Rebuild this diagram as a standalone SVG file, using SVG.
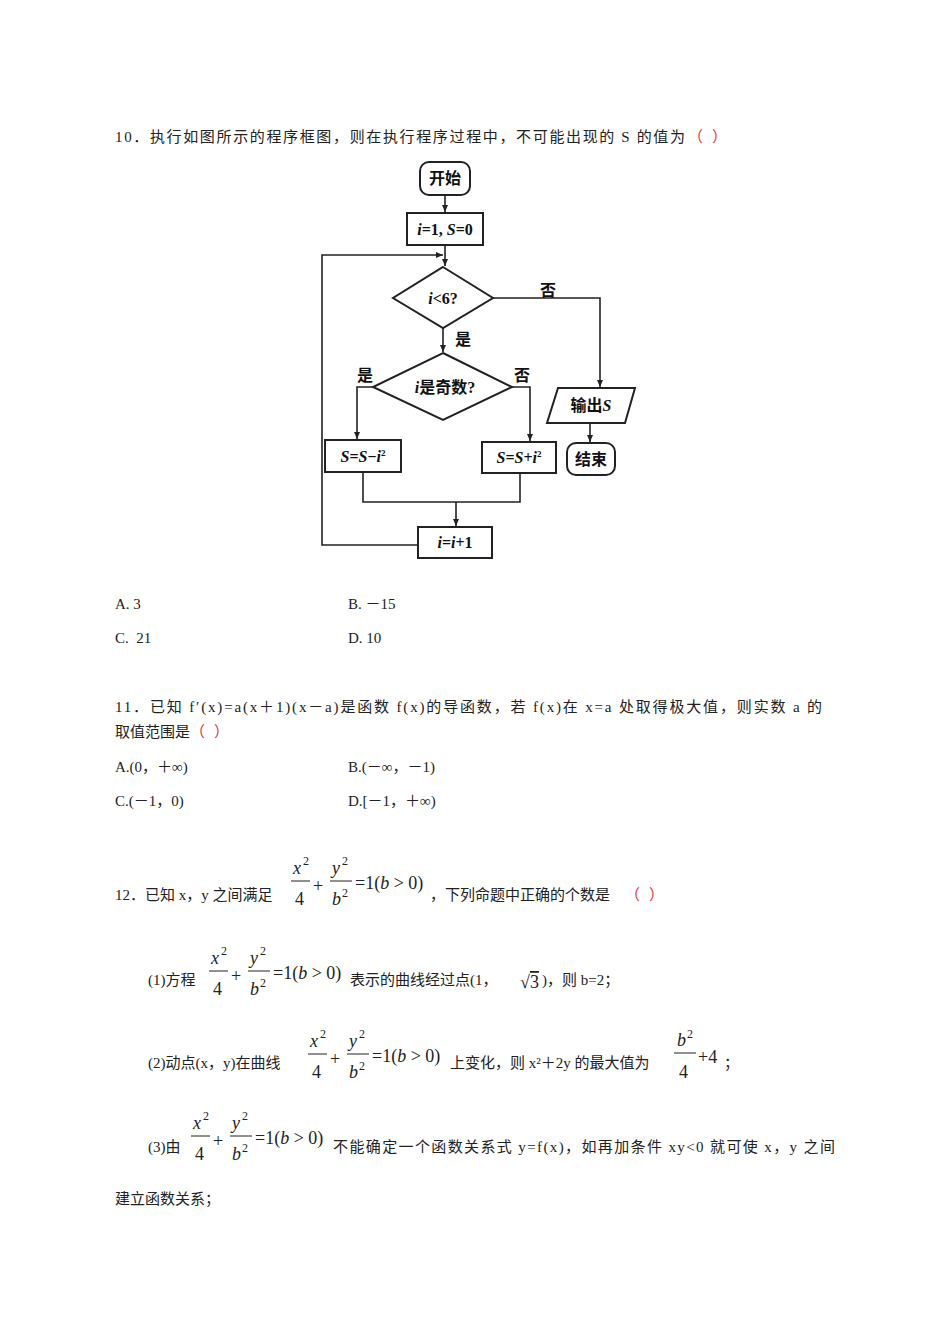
<svg xmlns="http://www.w3.org/2000/svg" width="950" height="1344" viewBox="0 0 950 1344">
<style>
.t{font-family:"Liberation Serif","Noto Sans CJK SC",serif;font-size:15px;fill:#222}
.r{fill:#d33}
.m{font-family:"Liberation Serif","Noto Sans CJK SC",serif;font-size:18px;fill:#222}
.i{font-style:italic}
.s{font-size:12px}
.f{font-family:"Liberation Serif","Noto Sans CJK SC",serif;font-size:16px;font-weight:bold;fill:#111}
.b{fill:#fff;stroke:#222;stroke-width:2}
.c{fill:none;stroke:#222;stroke-width:1.6}
</style>
<defs>
<marker id="a" markerWidth="8" markerHeight="8" refX="7" refY="4" orient="auto" markerUnits="userSpaceOnUse"><path d="M0,1 L7,4 L0,7 z" fill="#222"/></marker>
<g id="fr">
<text x="3" y="-21" class="m i">x</text><text x="13" y="-30" class="m s">2</text>
<line x1="1" y1="-14" x2="20" y2="-14" stroke="#222"/>
<text x="5" y="10" class="m">4</text>
<text x="23" y="-3" class="m">+</text>
<text x="42" y="-21" class="m i">y</text><text x="52" y="-30" class="m s">2</text>
<line x1="40" y1="-14" x2="62" y2="-14" stroke="#222"/>
<text x="42" y="10" class="m i">b</text><text x="52" y="2" class="m s">2</text>
<text x="65" y="-6" class="m">=1(<tspan class="i">b</tspan> &gt; 0)</text>
</g>
</defs>
<text class="t" x="115" y="142" textLength="570">10．执行如图所示的程序框图，则在执行程序过程中，不可能出现的 S 的值为</text>
<text class="t r" x="688" y="142">（</text><text class="t r" x="712" y="142">）</text>

<g id="connectors">
<line class="c" x1="445" y1="195" x2="445" y2="212" marker-end="url(#a)"/>
<line class="c" x1="445" y1="245" x2="445" y2="266" marker-end="url(#a)"/>
<polyline class="c" points="418,545 322,545 322,255 443,255" marker-end="url(#a)"/>
<polyline class="c" points="493,298 600,298 600,387" marker-end="url(#a)"/>
<line class="c" x1="590" y1="423" x2="590" y2="442" marker-end="url(#a)"/>
<line class="c" x1="443" y1="328" x2="443" y2="352" marker-end="url(#a)"/>
<polyline class="c" points="373,387 357,387 357,439" marker-end="url(#a)"/>
<polyline class="c" points="512,387 530,387 530,441" marker-end="url(#a)"/>
<polyline class="c" points="363,472 363,502 520,502 520,473"/>
<line class="c" x1="456" y1="502" x2="456" y2="526" marker-end="url(#a)"/>
</g>
<g id="n-start"><rect class="b" x="420" y="162" width="50" height="33" rx="9"/><text class="f" x="445" y="184" text-anchor="middle">开始</text></g>
<g id="n-init"><rect class="b" x="407" y="213" width="76" height="32"/><text class="f" x="445" y="235" text-anchor="middle"><tspan class="i">i</tspan>=1, <tspan class="i">S</tspan>=0</text></g>
<g id="n-d1"><polygon class="b" points="443,267 493,298 443,328 393,298"/><text class="f" x="443" y="304" text-anchor="middle"><tspan class="i">i</tspan>&lt;6?</text></g>
<text class="f" x="540" y="296" font-weight="normal">否</text>
<text class="f" x="455" y="345" font-weight="normal">是</text>
<g id="n-d2"><polygon class="b" points="443,353 512,387 443,420 373,387"/><text class="f" x="445" y="393" text-anchor="middle"><tspan class="i">i</tspan>是奇数?</text></g>
<text class="f" x="357" y="381" font-weight="normal">是</text>
<text class="f" x="514" y="381" font-weight="normal">否</text>
<g id="n-minus"><rect class="b" x="325" y="440" width="76" height="32"/><text class="f" x="363" y="462" text-anchor="middle" font-weight="normal"><tspan class="i">S</tspan>=<tspan class="i">S</tspan>−<tspan class="i">i</tspan><tspan font-size="9" dy="-6">2</tspan></text></g>
<g id="n-plus"><rect class="b" x="482" y="442" width="74" height="31"/><text class="f" x="519" y="463" text-anchor="middle" font-weight="normal"><tspan class="i">S</tspan>=<tspan class="i">S</tspan>+<tspan class="i">i</tspan><tspan font-size="9" dy="-6">2</tspan></text></g>
<g id="n-inc"><rect class="b" x="418" y="527" width="74" height="31"/><text class="f" x="455" y="548" text-anchor="middle" font-weight="normal"><tspan class="i">i</tspan>=<tspan class="i">i</tspan>+1</text></g>
<g id="n-out"><polygon class="b" points="558,388 635,388 625,423 547,423"/><text class="f" x="591" y="411" text-anchor="middle">输出<tspan class="i">S</tspan></text></g>
<g id="n-end"><rect class="b" x="567" y="443" width="48" height="32" rx="9"/><text class="f" x="591" y="465" text-anchor="middle">结束</text></g>

<text class="t" x="115" y="609">A. 3</text>
<text class="t" x="348" y="609">B. －15</text>
<text class="t" x="115" y="643" xml:space="preserve">C.  21</text>
<text class="t" x="348" y="643">D. 10</text>

<text class="t" x="115" y="712" textLength="707">11．已知 f′(x)=a(x＋1)(x－a)是函数 f(x)的导函数，若 f(x)在 x=a 处取得极大值，则实数 a 的</text>
<text class="t" x="115" y="737">取值范围是</text>
<text class="t r" x="190" y="737">（</text><text class="t r" x="214" y="737">）</text>
<text class="t" x="115" y="772">A.(0，＋∞)</text>
<text class="t" x="348" y="772">B.(－∞，－1)</text>
<text class="t" x="115" y="806">C.(－1，0)</text>
<text class="t" x="348" y="806">D.[－1，＋∞)</text>

<text class="t" x="115" y="900">12．已知 x，y 之间满足</text>
<use href="#fr" x="290" y="895"/>
<text class="t" x="430" y="900">，下列命题中正确的个数是</text>
<text class="t r" x="625" y="900">（</text><text class="t r" x="649" y="900">）</text>

<text class="t" x="148" y="985">(1)方程</text>
<use href="#fr" x="208" y="985"/>
<text class="t" x="350" y="985">表示的曲线经过点(1，</text>
<text class="m" x="520" y="988">√<tspan text-decoration="overline">3</tspan></text>
<text class="t" x="542" y="985">)，则 b=2；</text>

<text class="t" x="148" y="1068">(2)动点(x，y)在曲线</text>
<use href="#fr" x="307" y="1068"/>
<text class="t" x="450" y="1068">上变化，则 x²＋2y 的最大值为</text>
<g><text x="677" y="1046" class="m i">b</text><text x="687" y="1038" class="m s">2</text><line x1="674" y1="1053" x2="696" y2="1053" stroke="#222"/><text x="679" y="1078" class="m">4</text><text x="698" y="1063" class="m">+4</text></g>
<text class="t" x="724" y="1068">；</text>

<text class="t" x="148" y="1152">(3)由</text>
<use href="#fr" x="190" y="1150"/>
<text class="t" x="333" y="1152" textLength="502">不能确定一个函数关系式 y=f(x)，如再加条件 xy&lt;0 就可使 x，y 之间</text>
<text class="t" x="115" y="1204">建立函数关系；</text>
</svg>
